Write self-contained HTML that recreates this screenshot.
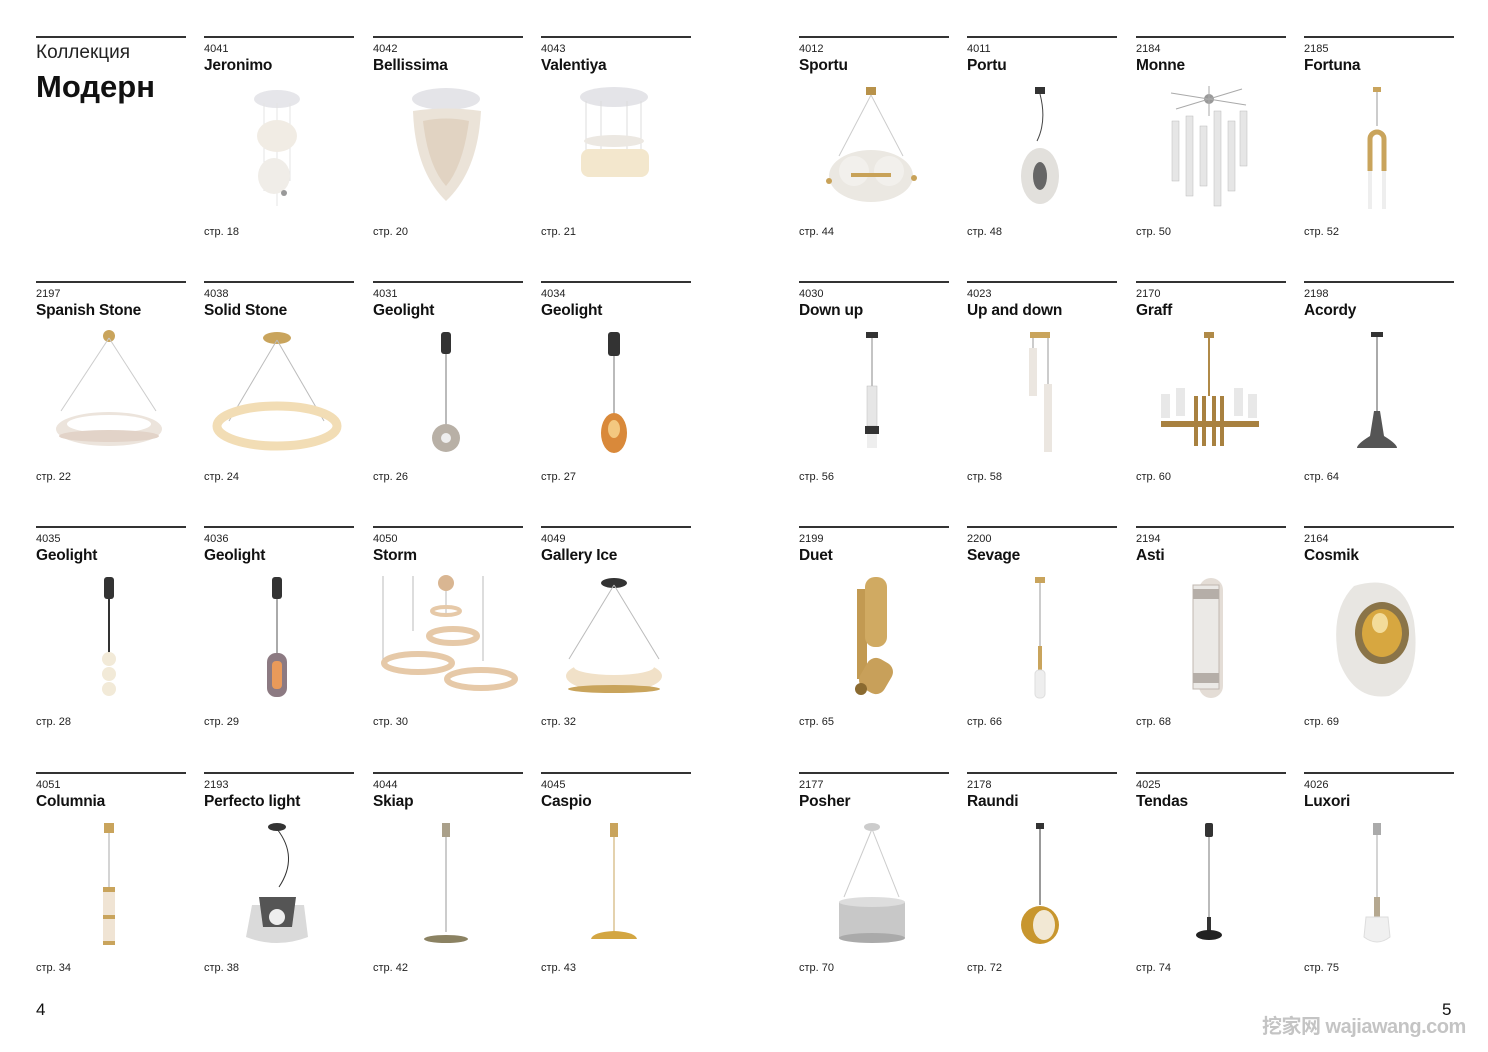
<!DOCTYPE html>
<html><head><meta charset="utf-8"><style>
body{margin:0;width:1488px;height:1052px;background:#fff;position:relative;overflow:hidden;font-family:"Liberation Sans",Arial,sans-serif;color:#111}
.c{position:absolute;width:150px;height:240px}
.c .ln{position:absolute;left:0;top:0;width:150px;height:1.5px;background:#333}
.c .cd{position:absolute;left:0;top:7px;font-size:11px;color:#222}
.c .nm{position:absolute;left:0;top:21px;font-size:15.5px;font-weight:bold;letter-spacing:-0.2px;white-space:nowrap}
.c .pg{position:absolute;left:0;top:190px;font-size:11px;color:#222}
.c svg{position:absolute;left:0;top:45px;width:150px;height:140px}
</style></head><body>

<div class="c" style="left:36px;top:36px"><div class="ln"></div>
<div style="position:absolute;left:0;top:6px;font-size:19px;color:#222">Коллекция</div>
<div style="position:absolute;left:0;top:33px;font-size:31px;font-weight:bold">Модерн</div></div>

<!-- Row 1 left -->
<div class="c" style="left:204px;top:36px"><div class="ln"></div><div class="cd">4041</div><div class="nm">Jeronimo</div><div class="pg">стр. 18</div>
<svg><ellipse cx="73" cy="18" rx="23" ry="9" fill="#e6e6ea"/><g stroke="#e4e4e4"><line x1="60" y1="22" x2="60" y2="110"/><line x1="73" y1="22" x2="73" y2="125"/><line x1="86" y1="22" x2="86" y2="100"/></g><ellipse cx="73" cy="55" rx="20" ry="16" fill="#f1ece4"/><ellipse cx="70" cy="95" rx="16" ry="18" fill="#f0ede8"/><circle cx="80" cy="112" r="3" fill="#999"/></svg></div>
<div class="c" style="left:373px;top:36px"><div class="ln"></div><div class="cd">4042</div><div class="nm">Bellissima</div><div class="pg">стр. 20</div>
<svg><ellipse cx="73" cy="18" rx="34" ry="11" fill="#e4e4e8"/><path d="M40 30 Q73 25 108 30 Q105 90 73 120 Q42 90 40 30Z" fill="#ebe3d8"/><path d="M50 40 Q73 35 96 40 Q90 85 73 105 Q55 85 50 40Z" fill="#e1d3c2"/></svg></div>
<div class="c" style="left:541px;top:36px"><div class="ln"></div><div class="cd">4043</div><div class="nm">Valentiya</div><div class="pg">стр. 21</div>
<svg><ellipse cx="73" cy="16" rx="34" ry="10" fill="#e4e4e8"/><g stroke="#ddd"><line x1="45" y1="20" x2="45" y2="80"/><line x1="60" y1="20" x2="60" y2="75"/><line x1="86" y1="20" x2="86" y2="75"/><line x1="100" y1="20" x2="100" y2="80"/></g><rect x="40" y="68" width="68" height="28" rx="8" fill="#f3e7cd"/><ellipse cx="73" cy="60" rx="30" ry="6" fill="#ece8e2"/></svg></div>

<!-- Row 1 right -->
<div class="c" style="left:799px;top:36px"><div class="ln"></div><div class="cd">4012</div><div class="nm">Sportu</div><div class="pg">стр. 44</div>
<svg><rect x="67" y="6" width="10" height="8" fill="#b8924a"/><g stroke="#ccc"><line x1="72" y1="14" x2="40" y2="75"/><line x1="72" y1="14" x2="104" y2="75"/></g><ellipse cx="72" cy="95" rx="42" ry="26" fill="#ebe8e2"/><circle cx="55" cy="90" r="15" fill="#f2f0ec"/><circle cx="90" cy="90" r="15" fill="#f2f0ec"/><rect x="52" y="92" width="40" height="4" fill="#c8a258"/><circle cx="30" cy="100" r="3" fill="#c8a258"/><circle cx="115" cy="97" r="3" fill="#c8a258"/></svg></div>
<div class="c" style="left:967px;top:36px"><div class="ln"></div><div class="cd">4011</div><div class="nm">Portu</div><div class="pg">стр. 48</div>
<svg><rect x="68" y="6" width="10" height="7" fill="#333"/><path d="M73 13 Q80 40 70 60" stroke="#444" fill="none"/><ellipse cx="73" cy="95" rx="19" ry="28" fill="#e2e0dc"/><ellipse cx="73" cy="95" rx="7" ry="14" fill="#666"/></svg></div>
<div class="c" style="left:1136px;top:36px"><div class="ln"></div><div class="cd">2184</div><div class="nm">Monne</div><div class="pg">стр. 50</div>
<svg><circle cx="73" cy="18" r="5" fill="#999"/><g stroke="#aaa"><line x1="35" y1="12" x2="110" y2="24"/><line x1="40" y1="28" x2="106" y2="8"/><line x1="73" y1="5" x2="73" y2="35"/></g><g fill="#e6e6e6" stroke="#bbb" stroke-width=".5"><rect x="36" y="40" width="7" height="60"/><rect x="50" y="35" width="7" height="80"/><rect x="64" y="45" width="7" height="60"/><rect x="78" y="30" width="7" height="95"/><rect x="92" y="40" width="7" height="70"/><rect x="104" y="30" width="7" height="55"/></g></svg></div>
<div class="c" style="left:1304px;top:36px"><div class="ln"></div><div class="cd">2185</div><div class="nm">Fortuna</div><div class="pg">стр. 52</div>
<svg><rect x="69" y="6" width="8" height="5" fill="#c9a45c"/><line x1="73" y1="11" x2="73" y2="45" stroke="#999"/><path d="M66 90 V58 A7 7 0 0 1 80 58 V90" stroke="#c9a45c" stroke-width="5" fill="none"/><rect x="64" y="90" width="4" height="38" fill="#eee"/><rect x="78" y="90" width="4" height="38" fill="#eee"/></svg></div>

<!-- Row 2 left -->
<div class="c" style="left:36px;top:281px"><div class="ln"></div><div class="cd">2197</div><div class="nm">Spanish Stone</div><div class="pg">стр. 22</div>
<svg><circle cx="73" cy="10" r="6" fill="#c9a45c"/><g stroke="#ccc"><line x1="73" y1="12" x2="25" y2="85"/><line x1="73" y1="12" x2="120" y2="85"/></g><ellipse cx="73" cy="103" rx="53" ry="17" fill="#ece4dc"/><ellipse cx="73" cy="98" rx="42" ry="9" fill="#fff"/><ellipse cx="73" cy="110" rx="50" ry="6" fill="#e2d3c8"/></svg></div>
<div class="c" style="left:204px;top:281px"><div class="ln"></div><div class="cd">4038</div><div class="nm">Solid Stone</div><div class="pg">стр. 24</div>
<svg><ellipse cx="73" cy="12" rx="14" ry="6" fill="#c9a45c"/><g stroke="#bbb"><line x1="73" y1="14" x2="25" y2="95"/><line x1="73" y1="14" x2="120" y2="95"/></g><ellipse cx="73" cy="100" rx="60" ry="20" fill="none" stroke="#f2ddb5" stroke-width="9"/></svg></div>
<div class="c" style="left:373px;top:281px"><div class="ln"></div><div class="cd">4031</div><div class="nm">Geolight</div><div class="pg">стр. 26</div>
<svg><rect x="68" y="6" width="10" height="22" rx="3" fill="#333"/><line x1="73" y1="28" x2="73" y2="100" stroke="#777"/><circle cx="73" cy="112" r="14" fill="#b8b0a6"/><circle cx="73" cy="112" r="5" fill="#eee"/></svg></div>
<div class="c" style="left:541px;top:281px"><div class="ln"></div><div class="cd">4034</div><div class="nm">Geolight</div><div class="pg">стр. 27</div>
<svg><rect x="67" y="6" width="12" height="24" rx="3" fill="#333"/><line x1="73" y1="30" x2="73" y2="90" stroke="#777"/><ellipse cx="73" cy="107" rx="13" ry="20" fill="#d9893a"/><ellipse cx="73" cy="103" rx="6" ry="9" fill="#f3c880"/></svg></div>

<!-- Row 2 right -->
<div class="c" style="left:799px;top:281px"><div class="ln"></div><div class="cd">4030</div><div class="nm">Down up</div><div class="pg">стр. 56</div>
<svg><rect x="67" y="6" width="12" height="6" fill="#333"/><line x1="73" y1="12" x2="73" y2="60" stroke="#888"/><rect x="68" y="60" width="10" height="40" fill="#e6e6e6" stroke="#bbb" stroke-width=".5"/><rect x="66" y="100" width="14" height="8" fill="#333"/><rect x="68" y="108" width="10" height="14" fill="#eee"/></svg></div>
<div class="c" style="left:967px;top:281px"><div class="ln"></div><div class="cd">4023</div><div class="nm">Up and down</div><div class="pg">стр. 58</div>
<svg><rect x="63" y="6" width="20" height="6" fill="#c9a45c"/><rect x="62" y="22" width="8" height="48" fill="#ebe6e0"/><rect x="77" y="58" width="8" height="68" fill="#ebe6e0"/><line x1="66" y1="12" x2="66" y2="22" stroke="#999"/><line x1="81" y1="12" x2="81" y2="58" stroke="#999"/></svg></div>
<div class="c" style="left:1136px;top:281px"><div class="ln"></div><div class="cd">2170</div><div class="nm">Graff</div><div class="pg">стр. 60</div>
<svg><rect x="68" y="6" width="10" height="6" fill="#b08a48"/><line x1="73" y1="12" x2="73" y2="70" stroke="#b08a48" stroke-width="2"/><g fill="#e8e8e8"><rect x="25" y="68" width="9" height="24"/><rect x="40" y="62" width="9" height="28"/><rect x="98" y="62" width="9" height="28"/><rect x="112" y="68" width="9" height="24"/></g><rect x="25" y="95" width="98" height="6" fill="#a88140"/><g fill="#a88140"><rect x="58" y="70" width="4" height="50"/><rect x="66" y="70" width="4" height="50"/><rect x="76" y="70" width="4" height="50"/><rect x="84" y="70" width="4" height="50"/></g></svg></div>
<div class="c" style="left:1304px;top:281px"><div class="ln"></div><div class="cd">2198</div><div class="nm">Acordy</div><div class="pg">стр. 64</div>
<svg><rect x="67" y="6" width="12" height="5" fill="#333"/><line x1="73" y1="11" x2="73" y2="85" stroke="#555"/><path d="M70 85 H76 L80 110 Q93 118 93 122 H53 Q53 118 66 110Z" fill="#555"/></svg></div>

<!-- Row 3 left -->
<div class="c" style="left:36px;top:526px"><div class="ln"></div><div class="cd">4035</div><div class="nm">Geolight</div><div class="pg">стр. 28</div>
<svg><rect x="68" y="6" width="10" height="22" rx="3" fill="#333"/><rect x="72" y="28" width="2" height="60" fill="#333"/><circle cx="73" cy="88" r="7" fill="#f2ead8"/><circle cx="73" cy="103" r="7" fill="#f2ead8"/><circle cx="73" cy="118" r="7" fill="#f2ead8"/></svg></div>
<div class="c" style="left:204px;top:526px"><div class="ln"></div><div class="cd">4036</div><div class="nm">Geolight</div><div class="pg">стр. 29</div>
<svg><rect x="68" y="6" width="10" height="22" rx="3" fill="#333"/><line x1="73" y1="28" x2="73" y2="82" stroke="#555"/><rect x="63" y="82" width="20" height="44" rx="9" fill="#8c7a82"/><rect x="68" y="90" width="10" height="28" rx="4" fill="#e99a5a"/></svg></div>
<div class="c" style="left:373px;top:526px"><div class="ln"></div><div class="cd">4050</div><div class="nm">Storm</div><div class="pg">стр. 30</div>
<svg><circle cx="73" cy="12" r="8" fill="#d9b692"/><g stroke="#bbb"><line x1="10" y1="5" x2="10" y2="90"/><line x1="40" y1="5" x2="40" y2="60"/><line x1="110" y1="5" x2="110" y2="90"/><line x1="73" y1="20" x2="73" y2="45"/></g><ellipse cx="45" cy="92" rx="34" ry="9" fill="none" stroke="#e6c9a8" stroke-width="6"/><ellipse cx="80" cy="65" rx="24" ry="7" fill="none" stroke="#e6c9a8" stroke-width="6"/><ellipse cx="108" cy="108" rx="34" ry="9" fill="none" stroke="#e6c9a8" stroke-width="6"/><ellipse cx="73" cy="40" rx="14" ry="4" fill="none" stroke="#e6c9a8" stroke-width="4"/></svg></div>
<div class="c" style="left:541px;top:526px"><div class="ln"></div><div class="cd">4049</div><div class="nm">Gallery Ice</div><div class="pg">стр. 32</div>
<svg><ellipse cx="73" cy="12" rx="13" ry="5" fill="#333"/><g stroke="#bbb"><line x1="73" y1="14" x2="28" y2="88"/><line x1="73" y1="14" x2="118" y2="88"/></g><ellipse cx="73" cy="105" rx="48" ry="16" fill="#f1e1c8"/><ellipse cx="73" cy="96" rx="40" ry="8" fill="#fff"/><ellipse cx="73" cy="118" rx="46" ry="4" fill="#c9a45c"/></svg></div>

<!-- Row 3 right -->
<div class="c" style="left:799px;top:526px"><div class="ln"></div><div class="cd">2199</div><div class="nm">Duet</div><div class="pg">стр. 65</div>
<svg><rect x="58" y="18" width="10" height="90" fill="#c29a52"/><rect x="66" y="6" width="22" height="70" rx="10" fill="#d0aa62"/><rect x="63" y="88" width="28" height="34" rx="10" transform="rotate(30 77 105)" fill="#c8a05a"/><circle cx="62" cy="118" r="6" fill="#8a6a30"/></svg></div>
<div class="c" style="left:967px;top:526px"><div class="ln"></div><div class="cd">2200</div><div class="nm">Sevage</div><div class="pg">стр. 66</div>
<svg><rect x="68" y="6" width="10" height="6" fill="#c9a45c"/><line x1="73" y1="12" x2="73" y2="75" stroke="#999"/><rect x="71" y="75" width="4" height="24" fill="#c9a45c"/><rect x="68" y="99" width="10" height="28" rx="4" fill="#eeeeee" stroke="#ddd"/></svg></div>
<div class="c" style="left:1136px;top:526px"><div class="ln"></div><div class="cd">2194</div><div class="nm">Asti</div><div class="pg">стр. 68</div>
<svg><rect x="63" y="7" width="24" height="120" rx="12" fill="#e4ddd6"/><rect x="57" y="14" width="26" height="104" fill="#ebe9e6" stroke="#c0b8b0" stroke-width="1"/><rect x="57" y="18" width="26" height="10" fill="#b5aea8"/><rect x="57" y="102" width="26" height="10" fill="#b5aea8"/></svg></div>
<div class="c" style="left:1304px;top:526px"><div class="ln"></div><div class="cd">2164</div><div class="nm">Cosmik</div><div class="pg">стр. 69</div>
<svg><path d="M50 15 Q100 0 110 50 Q118 110 85 125 Q50 130 35 90 Q25 40 50 15Z" fill="#e8e6e2"/><ellipse cx="78" cy="62" rx="27" ry="31" fill="#8a7448"/><ellipse cx="78" cy="62" rx="20" ry="24" fill="#d7a740"/><ellipse cx="76" cy="52" rx="8" ry="10" fill="#f3dc9a"/></svg></div>

<!-- Row 4 left -->
<div class="c" style="left:36px;top:772px"><div class="ln"></div><div class="cd">4051</div><div class="nm">Columnia</div><div class="pg">стр. 34</div>
<svg><rect x="68" y="6" width="10" height="10" fill="#c9a45c"/><line x1="73" y1="16" x2="73" y2="70" stroke="#aaa"/><rect x="67" y="70" width="12" height="58" fill="#f0e4d4"/><rect x="67" y="70" width="12" height="5" fill="#c9a45c"/><rect x="67" y="98" width="12" height="4" fill="#c9a45c"/><rect x="67" y="124" width="12" height="4" fill="#c9a45c"/></svg></div>
<div class="c" style="left:204px;top:772px"><div class="ln"></div><div class="cd">2193</div><div class="nm">Perfecto light</div><div class="pg">стр. 38</div>
<svg><ellipse cx="73" cy="10" rx="9" ry="4" fill="#333"/><path d="M73 12 Q95 40 75 70" stroke="#333" fill="none"/><path d="M48 88 H100 L104 120 Q73 132 42 120Z" fill="#dadada"/><path d="M55 80 H92 L88 110 H59Z" fill="#555"/><circle cx="73" cy="100" r="8" fill="#eee"/></svg></div>
<div class="c" style="left:373px;top:772px"><div class="ln"></div><div class="cd">4044</div><div class="nm">Skiap</div><div class="pg">стр. 42</div>
<svg><rect x="69" y="6" width="8" height="14" fill="#aaa08a"/><line x1="73" y1="20" x2="73" y2="115" stroke="#999"/><ellipse cx="73" cy="122" rx="22" ry="4" fill="#8b8262"/></svg></div>
<div class="c" style="left:541px;top:772px"><div class="ln"></div><div class="cd">4045</div><div class="nm">Caspio</div><div class="pg">стр. 43</div>
<svg><rect x="69" y="6" width="8" height="14" fill="#c9a45c"/><line x1="73" y1="20" x2="73" y2="115" stroke="#c9a45c"/><path d="M50 122 Q52 115 73 114 Q94 115 96 122Z" fill="#d3a642"/></svg></div>

<!-- Row 4 right -->
<div class="c" style="left:799px;top:772px"><div class="ln"></div><div class="cd">2177</div><div class="nm">Posher</div><div class="pg">стр. 70</div>
<svg><ellipse cx="73" cy="10" rx="8" ry="4" fill="#ccc"/><g stroke="#ccc"><line x1="73" y1="12" x2="45" y2="80"/><line x1="73" y1="12" x2="100" y2="80"/></g><rect x="40" y="85" width="66" height="36" fill="#c8c8c8"/><ellipse cx="73" cy="85" rx="33" ry="5" fill="#ddd"/><ellipse cx="73" cy="121" rx="33" ry="5" fill="#aaa"/></svg></div>
<div class="c" style="left:967px;top:772px"><div class="ln"></div><div class="cd">2178</div><div class="nm">Raundi</div><div class="pg">стр. 72</div>
<svg><rect x="69" y="6" width="8" height="6" fill="#333"/><line x1="73" y1="12" x2="73" y2="88" stroke="#333"/><circle cx="73" cy="108" r="19" fill="#c8962e"/><ellipse cx="77" cy="108" rx="11" ry="15" fill="#f2e8d4"/></svg></div>
<div class="c" style="left:1136px;top:772px"><div class="ln"></div><div class="cd">4025</div><div class="nm">Tendas</div><div class="pg">стр. 74</div>
<svg><rect x="69" y="6" width="8" height="14" rx="2" fill="#333"/><line x1="73" y1="20" x2="73" y2="110" stroke="#777"/><rect x="71" y="100" width="4" height="14" fill="#333"/><ellipse cx="73" cy="118" rx="13" ry="5" fill="#222"/></svg></div>
<div class="c" style="left:1304px;top:772px"><div class="ln"></div><div class="cd">4026</div><div class="nm">Luxori</div><div class="pg">стр. 75</div>
<svg><rect x="69" y="6" width="8" height="12" fill="#aaa"/><line x1="73" y1="18" x2="73" y2="80" stroke="#aaa"/><rect x="70" y="80" width="6" height="20" fill="#b5a890"/><path d="M62 100 H84 L86 120 Q73 130 60 120Z" fill="#f0f0f0" stroke="#ddd"/></svg></div>

<div style="position:absolute;left:36px;top:1000px;font-size:17px">4</div>
<div style="position:absolute;left:1442px;top:1000px;font-size:17px">5</div>
<div style="position:absolute;left:1262px;top:1010px;font-size:20px;font-weight:bold;color:#c4c4c4;font-family:'Liberation Sans','Noto Sans CJK SC',sans-serif;white-space:nowrap;letter-spacing:-0.5px">挖家网 wajiawang.com</div>
</body></html>
